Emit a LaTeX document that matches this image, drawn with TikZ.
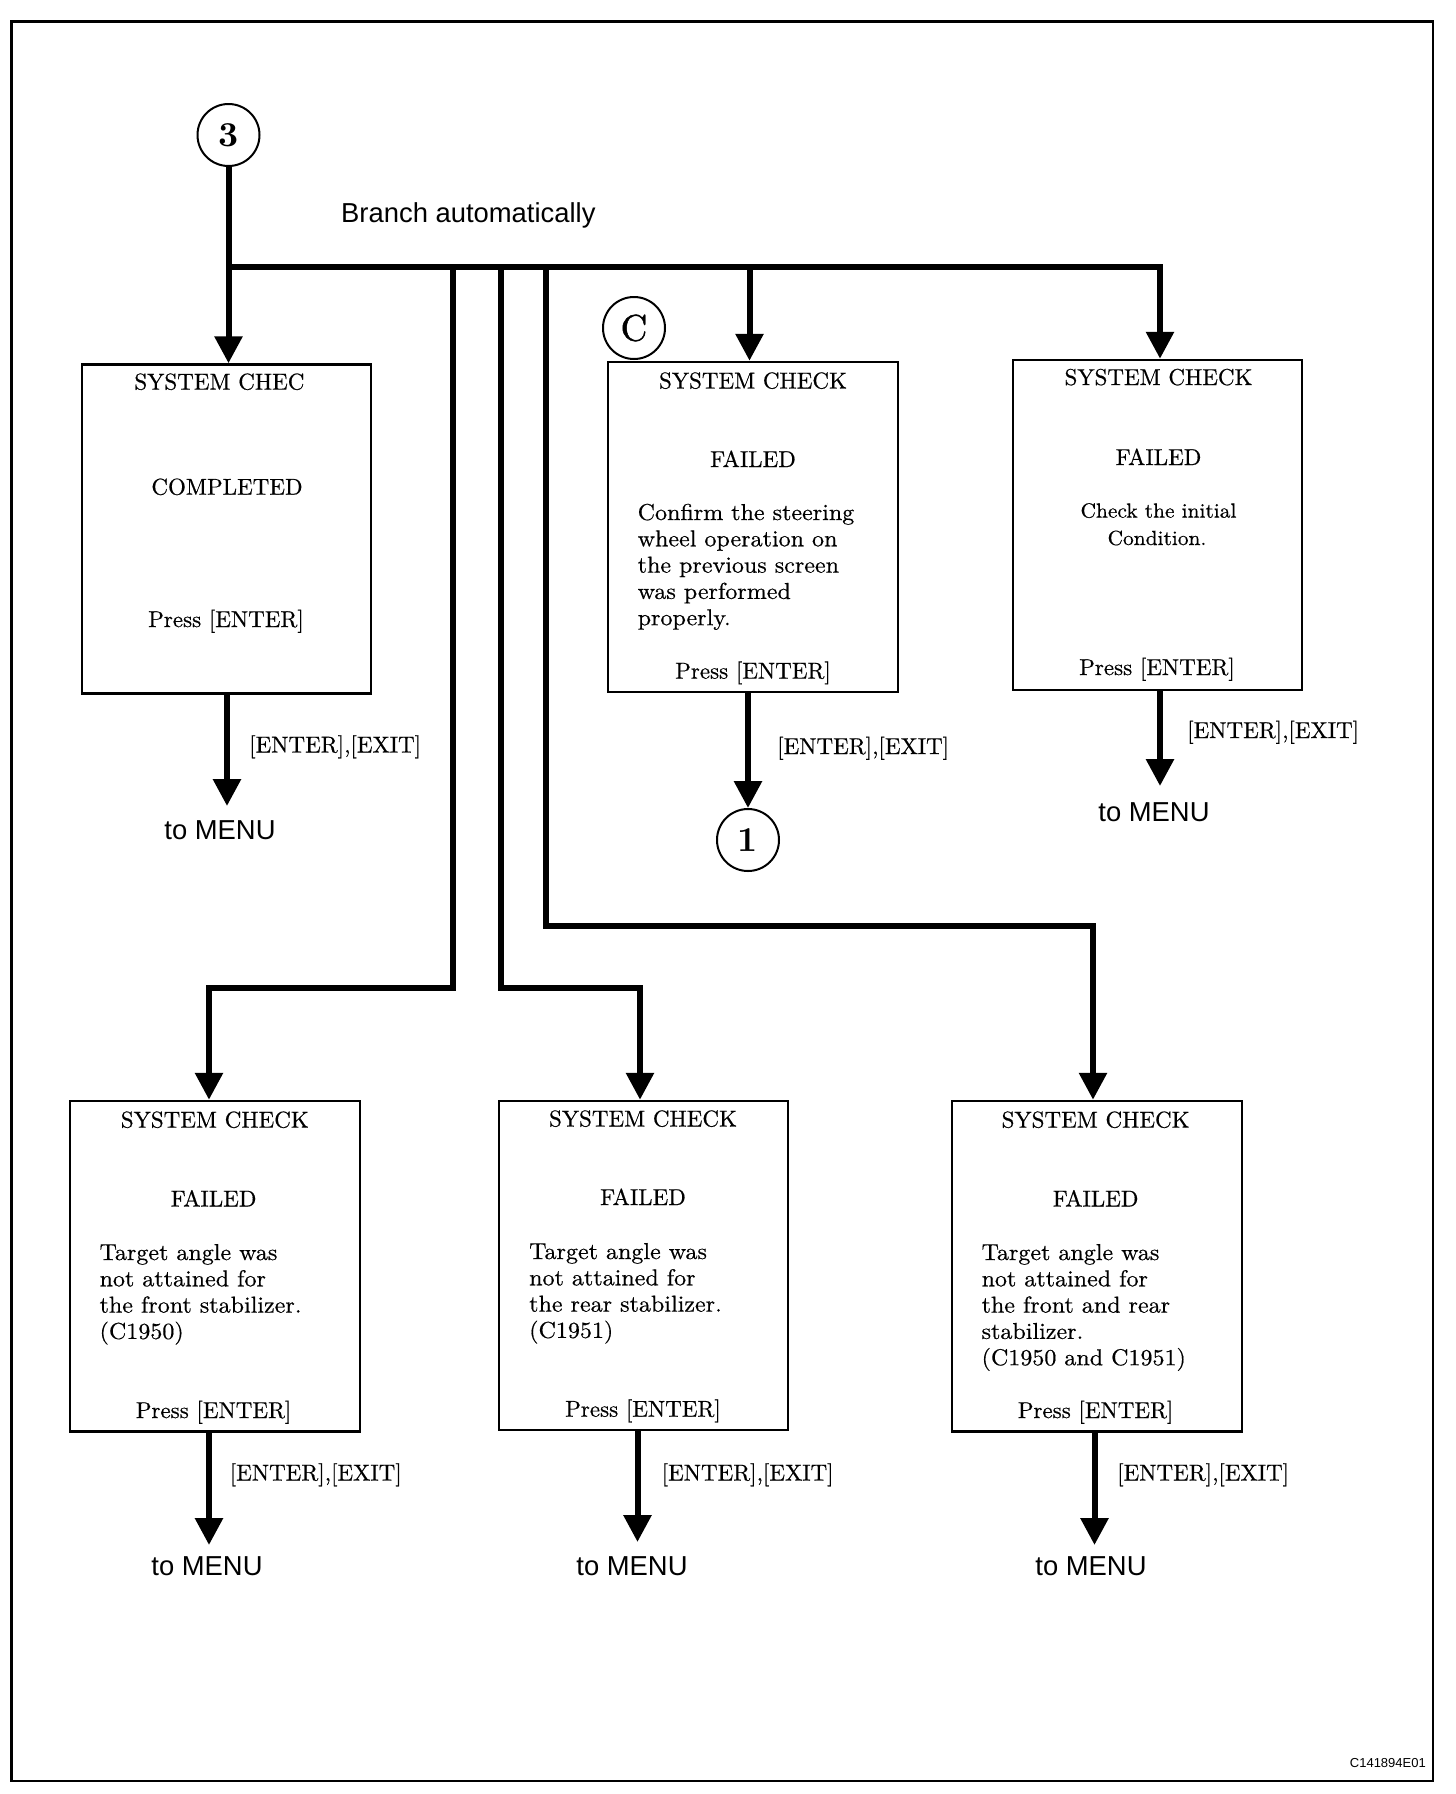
\documentclass[tikz,border=0pt]{standalone}
\usepackage{fontspec}
\newfontfamily\sansf{Liberation Sans}
\newfontfamily\serf{lmroman10-regular.otf}[FakeBold=0.5]
\newfontfamily\serbody{lmroman10-regular.otf}[FakeStretch=1.045, FakeBold=0.5]
\newfontfamily\serC{lmroman10-regular.otf}[FakeBold=1.2]
\newfontfamily\digf{lmroman10-bold.otf}
\usetikzlibrary{arrows.meta}
\begin{document}
\begin{tikzpicture}[x=1pt,y=-1pt,
  flow/.style={line width=6pt, -{Triangle[length=27pt,width=27pt]}},
  scrbox/.style={draw, line width=2.5pt, inner sep=0pt, minimum width=290pt, minimum height=330pt},
  ring/.style={draw, circle, line width=2pt, minimum size=62pt, inner sep=0pt},
  ser/.style={inner sep=0pt, font=\serf\fontsize{23}{26.3}\selectfont},
  ctr/.style={ser, anchor=base},
  lft/.style={ser, anchor=base west},
  bodytxt/.style={inner sep=0pt, anchor=base west, font=\serbody\fontsize{23}{26.3}\selectfont},
  sanslbl/.style={inner sep=0pt, anchor=base, font=\sansf\fontsize{27.4}{33}\selectfont},
]
\useasboundingbox (0,0) rectangle (1456,1794);
\draw[line width=2.2pt] (11.5,21.5) rectangle (1433,1781);

% boxes
\node[scrbox, minimum width=289pt, minimum height=329pt] (b1) at (226.5,529) {};
\node[scrbox] (b2) at (753,527) {};
\node[scrbox, minimum width=289pt] (b3) at (1157.5,525) {};
\node[scrbox, minimum height=330.5pt] (b4) at (215,1266.25) {};
\node[scrbox, minimum width=289pt, minimum height=329pt] (b5) at (643.5,1265.5) {};
\node[scrbox, minimum height=330.5pt] (b6) at (1097,1266.25) {};

% circles
\node[ring, font=\digf\fontsize{35}{40}\selectfont] (c3) at (228.5,135) {3};
\node[ring, font=\serC\fontsize{37}{40}\selectfont] (cc) at (634,328) {C};
\node[ring, font=\digf\fontsize{35}{40}\selectfont] (c1) at (748,840) {1};

% junction coordinates
\coordinate (j0) at (228.5,267);
\coordinate (j5) at (1160,267);
\coordinate (ja) at (453,267);
\coordinate (jb) at (501,267);
\coordinate (jc) at (546,267);
\coordinate (jd) at (749.5,267);
\coordinate (ka) at (209,988);
\coordinate (kb) at (640,988);
\coordinate (kc) at (1093,925.5);

\draw[flow] (c3.south) -- (c3.south |- b1.north);
\draw[flow] (j0) -- (j5) -- (j5 |- b3.north);
\draw[flow] (jd) -- (jd |- b2.north);
\draw[flow] (ja) |- (ka) -- (ka |- b4.north);
\draw[flow] (jb) |- (kb) -- (kb |- b5.north);
\draw[flow] (jc) |- (kc) -- (kc |- b6.north);

% exit arrows
\coordinate (t1) at (227,806);
\coordinate (t3) at (1160,786);
\coordinate (t4) at (209,1545);
\coordinate (t5) at (637.5,1542);
\coordinate (t6) at (1094.5,1545);
\draw[flow] (t1 |- b1.south) -- (t1);
\draw[flow] (c1.north |- b2.south) -- (c1.north);
\draw[flow] (t3 |- b3.south) -- (t3);
\draw[flow] (t4 |- b4.south) -- (t4);
\draw[flow] (t5 |- b5.south) -- (t5);
\draw[flow] (t6 |- b6.south) -- (t6);

% labels
\node[sanslbl, anchor=base west] (branch) at (341,222) {Branch automatically};
\node[lft] (x1) at (249,752.5) {[ENTER],[EXIT]};
\node[lft] (x2) at (777,754) {[ENTER],[EXIT]};
\node[lft] (x3) at (1187,738) {[ENTER],[EXIT]};
\node[lft] (x4) at (229.6,1480.5) {[ENTER],[EXIT]};
\node[lft] (x5) at (661.5,1480.5) {[ENTER],[EXIT]};
\node[lft] (x6) at (1117,1480.5) {[ENTER],[EXIT]};
\node[sanslbl] (m1) at (220,839) {to MENU};
\node[sanslbl] (m3) at (1154,821) {to MENU};
\node[sanslbl] (m4) at (207,1575) {to MENU};
\node[sanslbl] (m5) at (632,1575) {to MENU};
\node[sanslbl] (m6) at (1091,1575) {to MENU};
\node[inner sep=0pt, anchor=base east, font=\sansf\fontsize{13}{15}\selectfont] (code) at (1426,1767) {C141894E01};

% box 1
\node[ctr] (b1t) at (219.4,389.6) {SYSTEM CHEC};
\node[ctr] (b1m) at (227,494.7) {COMPLETED};
\node[ctr] (b1p) at (226,627) {Press [ENTER]};

% box 2
\node[ctr] (b2t) at (753,388.5) {SYSTEM CHECK};
\node[ctr] (b2f) at (753,467) {FAILED};
\node[bodytxt] (b2b) at (637.5,520) {\vtop{\hbox{Confirm the steering}\hbox{wheel operation on}\hbox{the previous screen}\hbox{was performed}\hbox{properly.}}};
\node[ctr] (b2p) at (753,678.6) {Press [ENTER]};

% box 3
\node[ctr] (b3t) at (1158.5,385) {SYSTEM CHECK};
\node[ctr] (b3f) at (1158.5,465) {FAILED};
\node[ctr, font=\serbody\fontsize{20.5}{27}\selectfont] (b3a) at (1158.5,517.6) {Check the initial};
\node[ctr, font=\serbody\fontsize{20.5}{27}\selectfont] (b3b) at (1157,545) {Condition.};
\node[ctr] (b3p) at (1157,675) {Press [ENTER]};

% box 4
\node[ctr] (b4t) at (214.8,1127.6) {SYSTEM CHECK};
\node[ctr] (b4f) at (213.6,1206.5) {FAILED};
\node[bodytxt] (b4b) at (99.4,1260) {\vtop{\hbox{Target angle was}\hbox{not attained for}\hbox{the front stabilizer.}\hbox{(C1950)}}};
\node[ctr] (b4p) at (213.6,1418) {Press [ENTER]};

% box 5
\node[ctr] (b5t) at (643,1126.5) {SYSTEM CHECK};
\node[ctr] (b5f) at (643,1205) {FAILED};
\node[bodytxt] (b5b) at (529,1259) {\vtop{\hbox{Target angle was}\hbox{not attained for}\hbox{the rear stabilizer.}\hbox{(C1951)}}};
\node[ctr] (b5p) at (643,1416.7) {Press [ENTER]};

% box 6
\node[ctr] (b6t) at (1095.6,1127.6) {SYSTEM CHECK};
\node[ctr] (b6f) at (1095.6,1206.5) {FAILED};
\node[bodytxt] (b6b) at (981.4,1260) {\vtop{\hbox{Target angle was}\hbox{not attained for}\hbox{the front and rear}\hbox{stabilizer.}\hbox{(C1950 and C1951)}}};
\node[ctr] (b6p) at (1095.6,1418) {Press [ENTER]};
\end{tikzpicture}
\end{document}
